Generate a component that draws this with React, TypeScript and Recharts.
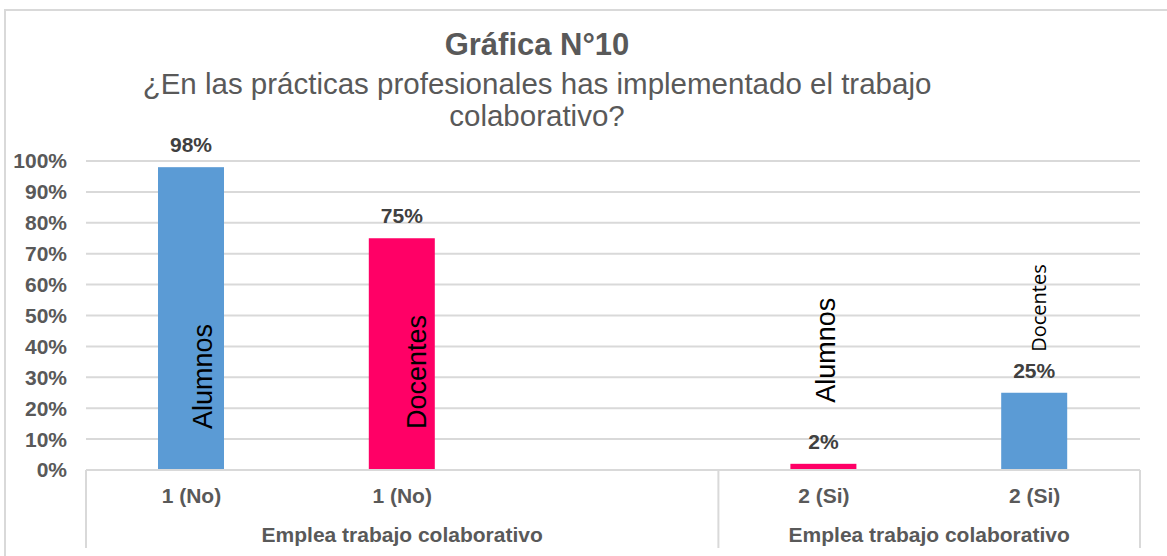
import React from "react";
import { BarChart, Bar, XAxis, YAxis, CartesianGrid, Cell } from "recharts";

// values
const categories = ["1 (No)", "1 (No)", "", "2 (Si)", "2 (Si)"];
const percentages = [0.98, 0.75, null, 0.02, 0.25];
const seriesNames = ["Alumnos", "Docentes", "", "Alumnos", "Docentes"];
const groups = [
  { label: "Emplea trabajo colaborativo", first: 0, last: 2 },
  { label: "Emplea trabajo colaborativo", first: 3, last: 4 },
];
const yTicks = [0, 0.1, 0.2, 0.3, 0.4, 0.5, 0.6, 0.7, 0.8, 0.9, 1];
const title = "Gráfica N°10";
const subtitleLines = [
  "¿En las prácticas profesionales has implementado el trabajo",
  "colaborativo?",
];

// styles
const ARIAL = "'Liberation Sans', Arial, sans-serif";
const OPEN = "'Open Sans', 'Noto Sans', sans-serif";
const GRAY = "#595959";
const LINE = "#D9D9D9";
const barColors = ["#5B9BD5", "#FF0066", "#5B9BD5", "#FF0066", "#5B9BD5"];

// where the series-name labels sit (they were moved by hand in the original)
const namePlacement = [
  { mode: "inside", gap: 41, shift: 21, size: 27, font: ARIAL },
  { mode: "inside", gap: 41, shift: 24, size: 27, font: ARIAL },
  null,
  { mode: "above", gap: 61, shift: 12, size: 27, font: ARIAL },
  { mode: "above", gap: 41, shift: 12, size: 20, font: OPEN },
];

const rows = categories.map((cat, i) => ({
  key: `c${i}`,
  cat,
  value: percentages[i],
  name: seriesNames[i],
}));

const renderCategoryTick = (props: any) => {
  const { x, y, payload } = props;
  const i = payload?.index ?? props.index;
  const half =
    payload?.offset || props.width / (props.visibleTicksCount || rows.length) / 2;
  const parts: React.ReactNode[] = [];
  parts.push(
    <text
      key="t"
      x={x}
      y={y + 33}
      textAnchor="middle"
      fontSize={21}
      fontWeight="bold"
      fontFamily={ARIAL}
      fill={GRAY}
    >
      {categories[i]}
    </text>
  );
  groups.forEach((g, gi) => {
    if (g.first === i) {
      const left = x - half;
      parts.push(
        <line key={`l${gi}`} x1={left} x2={left} y1={y} y2={y + 78} stroke={LINE} strokeWidth={2} />
      );
      parts.push(
        <text
          key={`g${gi}`}
          x={x + (g.last - g.first) * half}
          y={y + 71.5}
          textAnchor="middle"
          fontSize={21}
          fontWeight="bold"
          fontFamily={ARIAL}
          fill={GRAY}
        >
          {g.label}
        </text>
      );
    }
    if (g.last === i && gi === groups.length - 1) {
      const right = x + half;
      parts.push(
        <line key={`r${gi}`} x1={right} x2={right} y1={y} y2={y + 78} stroke={LINE} strokeWidth={2} />
      );
    }
  });
  return <g>{parts}</g>;
};

const renderBar = (props: any) => {
  const { x, y, width, height, fill, payload } = props;
  if (payload?.value == null) return <g />;
  const i = rows.findIndex((r) => r.key === payload.key);
  const cx = x + width / 2;
  const p = namePlacement[i];
  let nameEl: React.ReactNode = null;
  if (p && payload.name) {
    const startY = p.mode === "inside" ? y + height - p.gap : y - p.gap;
    nameEl = (
      <text
        transform={`translate(${cx + p.shift},${startY}) rotate(-90)`}
        textAnchor="start"
        fontSize={p.size}
        fontFamily={p.font}
        fill="#000000"
      >
        {payload.name}
      </text>
    );
  }
  return (
    <g>
      <rect x={x} y={y} width={width} height={height} fill={fill} />
      <text
        x={cx}
        y={y - 15}
        textAnchor="middle"
        fontSize={21}
        fontWeight="bold"
        fontFamily={ARIAL}
        fill="#404040"
      >
        {`${Math.round(payload.value * 100)}%`}
      </text>
      {nameEl}
    </g>
  );
};

const App = () => {
  return (
    <div
      style={{
        position: "absolute",
        left: 0,
        top: 0,
        width: 1167,
        height: 556,
        overflow: "hidden",
        background: "#ffffff",
      }}
    >
      <BarChart
        width={1167}
        height={556}
        data={rows}
        margin={{ top: 161, right: 27, bottom: 0, left: 0 }}
        barSize={66}
      >
        <CartesianGrid vertical={false} stroke={LINE} strokeWidth={2} />
        <XAxis
          dataKey="key"
          height={86}
          interval={0}
          tickLine={false}
          tickSize={0}
          tickMargin={0}
          axisLine={{ stroke: LINE, strokeWidth: 2 }}
          tick={renderCategoryTick}
        />
        <YAxis
          width={86}
          domain={[0, 1]}
          ticks={yTicks}
          axisLine={false}
          tickLine={false}
          tickSize={0}
          tickMargin={19}
          tickFormatter={(v: number) => `${Math.round(v * 100)}%`}
          tick={{ fill: GRAY, fontSize: 21, fontWeight: "bold", fontFamily: ARIAL }}
        />
        <Bar dataKey="value" isAnimationActive={false} shape={renderBar}>
          {rows.map((r, i) => (
            <Cell key={r.key} fill={barColors[i]} />
          ))}
        </Bar>
      </BarChart>
      <svg
        width={1167}
        height={556}
        style={{ position: "absolute", left: 0, top: 0, pointerEvents: "none" }}
      >
        <rect x={5} y={10} width={1300} height={700} fill="none" stroke={LINE} strokeWidth={2} />
        <text
          x={537}
          y={55}
          textAnchor="middle"
          fontSize={31}
          fontWeight="bold"
          fontFamily={ARIAL}
          fill={GRAY}
        >
          {title}
        </text>
        {subtitleLines.map((line, i) => (
          <text
            key={i}
            x={537}
            y={93.5 + i * 32.5}
            textAnchor="middle"
            fontSize={29.5}
            fontFamily={ARIAL}
            fill={GRAY}
          >
            {line}
          </text>
        ))}
      </svg>
    </div>
  );
};

export default App;
